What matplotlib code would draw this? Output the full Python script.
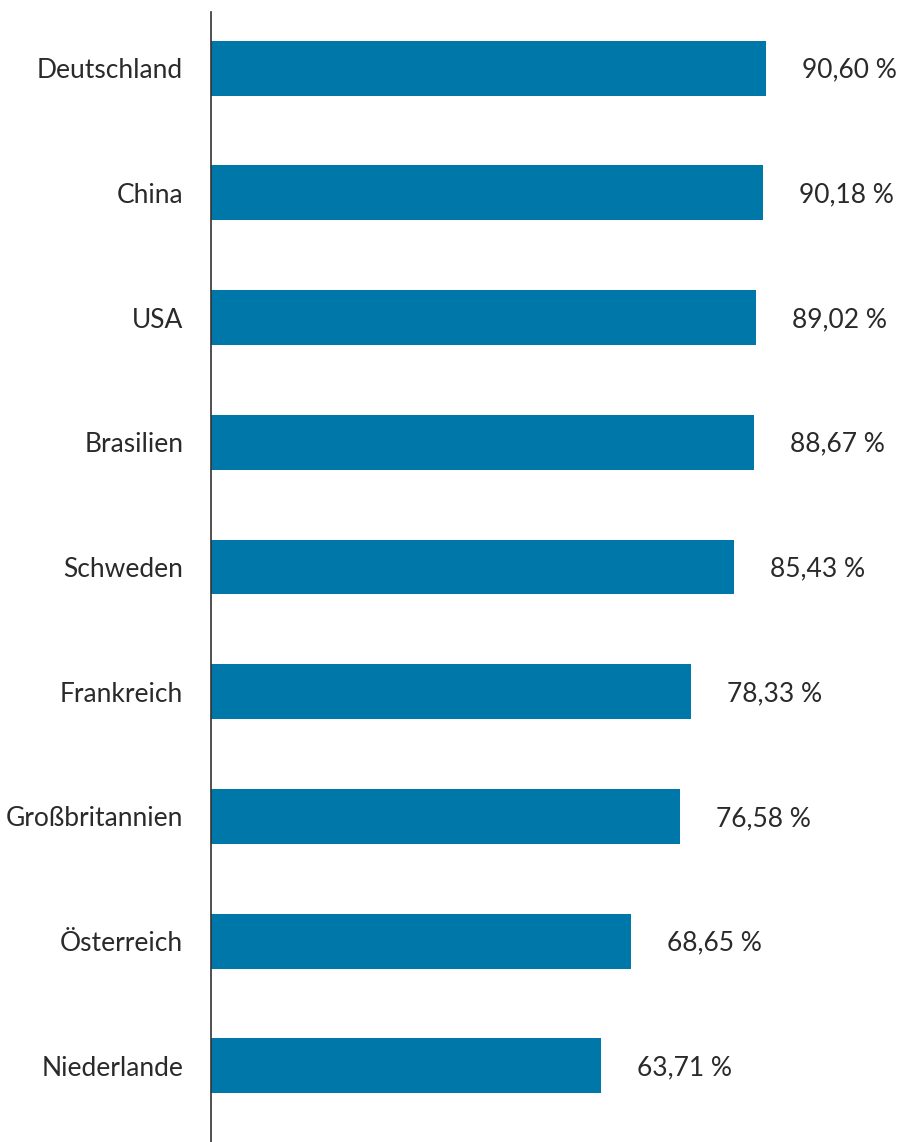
import matplotlib.pyplot as plt

# Anteile je Land in Prozent
countries = ['Deutschland', 'China', 'USA', 'Brasilien', 'Schweden',
             'Frankreich', 'Großbritannien', 'Österreich', 'Niederlande']
shares = [90.60, 90.18, 89.02, 88.67, 85.43, 78.33, 76.58, 68.65, 63.71]
labels = ['90,60 %', '90,18 %', '89,02 %', '88,67 %', '85,43 %',
          '78,33 %', '76,58 %', '68,65 %', '63,71 %']

plt.rcParams['font.family'] = ['Lato', 'DejaVu Sans']

fig = plt.figure(figsize=(9.05, 11.42), dpi=100)
ax = fig.add_axes([0.2331, 0.0, 0.7669, 0.9895])

pos = list(range(len(countries)))
ax.barh(pos, shares, height=0.44, color='#0077a9')

for p, v, lab in zip(pos, shares, labels):
    ax.annotate(lab, (v, p), xytext=(36, -2), textcoords='offset pixels',
                ha='left', va='center', fontsize=19, color='#2a2a2a')

ax.set_xlim(0, 113.3)
ax.set_ylim(8.61, -0.45)
ax.set_yticks(pos)
ax.set_yticklabels(countries, fontsize=19, color='#2a2a2a')
ax.tick_params(axis='y', length=0, pad=20)
ax.set_xticks([])
for side in ['top', 'right', 'bottom']:
    ax.spines[side].set_visible(False)
ax.spines['left'].set_color('#333333')
ax.spines['left'].set_linewidth(1.2)

fig.savefig('out.png', dpi=100)
